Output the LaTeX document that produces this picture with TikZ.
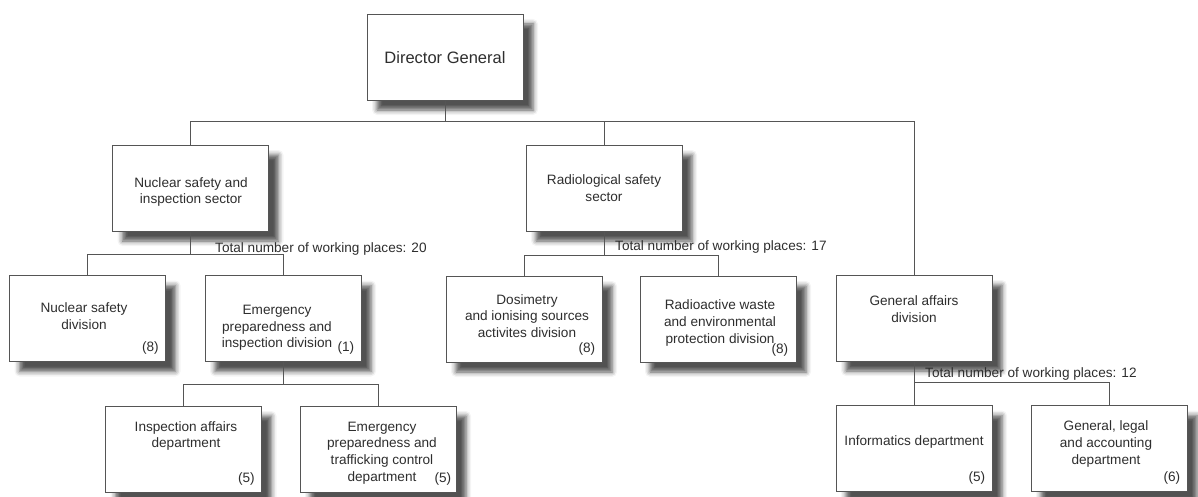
\documentclass[tikz,border=0pt]{standalone}
\usepackage{fontspec}
\setmainfont{Liberation Sans}
\usetikzlibrary{shadows.blur}
\definecolor{txtc}{HTML}{2E2E2E}
\definecolor{linec}{HTML}{555555}
\begin{document}
\begin{tikzpicture}[x=1pt,y=-1pt,
  orgbox/.style={draw=linec, line width=0.8pt, fill=white, minimum width=156pt, minimum height=86pt, inner sep=0pt,
    blur shadow={shadow xshift=10pt, shadow yshift=-10pt, shadow blur radius=5pt, shadow opacity=68}},
  txt/.style={text=txtc, align=center, inner sep=0pt, font=\fontsize{13.6}{16.7}\selectfont},
  cnt/.style={text=txtc, inner sep=0pt, anchor=base east, font=\fontsize{13.6}{16.7}\selectfont},
  lbl/.style={text=txtc, inner sep=0pt, anchor=base west, font=\fontsize{13.6}{16.7}\selectfont},
  conn/.style={draw=linec, line width=0.8pt}]
\useasboundingbox (0,0) rectangle (1198,497);
% boxes
\node[orgbox] (dg)  at (445,57) {};
\node[orgbox] (nss) at (190.5,188) {};
\node[orgbox] (rss) at (604,188) {};
\node[orgbox] (gad) at (914,318) {};
\node[orgbox] (nsd) at (87.5,318.5) {};
\node[orgbox] (epd) at (283,318.5) {};
\node[orgbox] (dos) at (524,319) {};
\node[orgbox] (raw) at (718,319) {};
\node[orgbox] (iad) at (183.5,449) {};
\node[orgbox] (etd) at (378,449) {};
\node[orgbox] (inf) at (914,448.5) {};
\node[orgbox] (gla) at (1109,448.5) {};
% texts
\node[txt, font=\fontsize{16.5}{20}\selectfont] (dg-t) at (445,58) {Director General};
\node[txt] (nss-t) at (191,192) {Nuclear safety and\\inspection sector};
\node[txt] (rss-t) at (604,188) {Radiological safety\\sector};
\node[txt] (gad-t) at (914,309) {General affairs\\division};
\node[txt] (nsd-t) at (84,316) {Nuclear safety\\division};
\node[txt] (epd-t) at (277,328) {Emergency\\preparedness and\\inspection division};
\node[txt] (dos-t) at (527,316) {Dosimetry\\and ionising sources\\activites division};
\node[txt] (raw-t) at (720,323) {Radioactive waste\\and environmental\\protection division};
\node[txt] (iad-t) at (186,436) {Inspection affairs\\department};
\node[txt] (etd-t) at (382,453) {Emergency\\preparedness and\\trafficking control\\department};
\node[txt] (inf-t) at (914,442) {Informatics department};
\node[txt] (gla-t) at (1106,444) {General, legal\\and accounting\\department};
% counts
\node[cnt] (nsd-c) at ([xshift=-7pt,yshift=10pt]nsd.south east) {(8)};
\node[cnt] (epd-c) at ([xshift=-7pt,yshift=10pt]epd.south east) {(1)};
\node[cnt] (dos-c) at ([xshift=-7pt,yshift=10pt]dos.south east) {(8)};
\node[cnt] (raw-c) at ([xshift=-8pt,yshift=9pt]raw.south east) {(8)};
\node[cnt] (iad-c) at ([xshift=-7pt,yshift=10pt]iad.south east) {(5)};
\node[cnt] (etd-c) at ([xshift=-5pt,yshift=10pt]etd.south east) {(5)};
\node[cnt] (inf-c) at ([xshift=-7pt,yshift=10pt]inf.south east) {(5)};
\node[cnt] (gla-c) at ([xshift=-7pt,yshift=10pt]gla.south east) {(6)};
% labels
\node[lbl] (t20) at (215,252) {Total number of working places: 20};
\node[lbl] (t17) at (615,250) {Total number of working places: 17};
\node[lbl] (t12) at (925,377) {Total number of working places: 12};
% connectors
\coordinate (b0) at (445,121);
\coordinate (b1) at (190.5,254);
\coordinate (b2) at (604,255);
\coordinate (b3) at (283,384);
\coordinate (b4) at (914,382);
\draw[conn] (dg.south) -- (b0);
\draw[conn] (b0) -| (nss.north);
\draw[conn] (b0) -| (gad.north);
\draw[conn] (rss.north) -- (rss.north |- b0);
\draw[conn] (nss.south) -- (b1);
\draw[conn] (b1) -| (nsd.north);
\draw[conn] (b1) -| (epd.north);
\draw[conn] (rss.south) -- (b2);
\draw[conn] (b2) -| (dos.north);
\draw[conn] (b2) -| (raw.north);
\draw[conn] (epd.south) -- (b3);
\draw[conn] (b3) -| (iad.north);
\draw[conn] (b3) -| (etd.north);
\draw[conn] (gad.south) -- (b4);
\draw[conn] (b4) -- (inf.north);
\draw[conn] (b4) -| (gla.north);
\end{tikzpicture}
\end{document}
